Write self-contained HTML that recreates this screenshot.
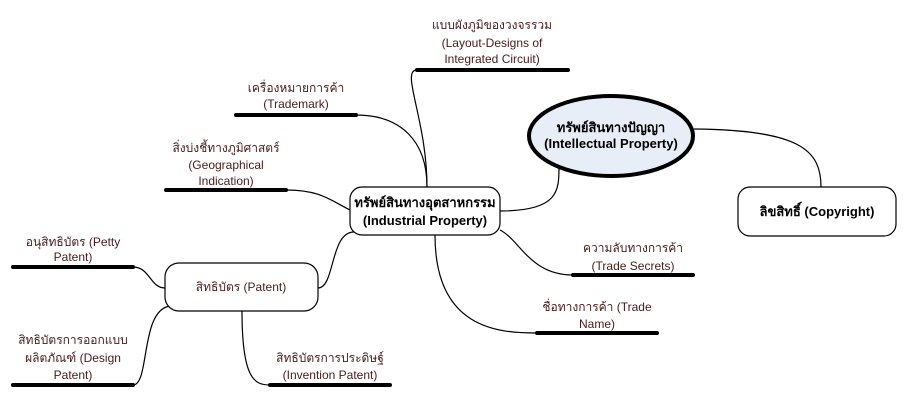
<!DOCTYPE html>
<html><head><meta charset="utf-8"><style>
html,body{margin:0;padding:0;background:#fff;width:913px;height:413px;overflow:hidden}
svg text{font-family:"Liberation Sans","Noto Sans CJK SC",sans-serif;font-size:12px;fill:#4a1a1a;text-anchor:middle}
svg text.b{font-weight:bold;fill:#000;font-size:13px}
</style></head><body>
<svg width="913" height="413" viewBox="0 0 913 413">
<g fill="none" stroke="#000" stroke-width="1.2">
<path d="M427 187 C427 120 400 70 417 70"/>
<path d="M356 115 C400 115 427 140 427 187"/>
<path d="M286 190 C320 190 330 200 350 210"/>
<path d="M354 232 C330 232 335 288 318 288"/>
<path d="M435 235 C435 330 500 333 537 333"/>
<path d="M500 230 C520 240 530 275 573 275"/>
<path d="M500 211 C560 211 559 190 559 165"/>
<path d="M694 129 C800 130 821 150 821 187"/>
<path d="M165 288 C150 288 150 267 133 267"/>
<path d="M170 306 C140 310 150 385 133 385"/>
<path d="M242 311 C242 380 255 385 270 385"/>
</g>
<g stroke="#000" stroke-width="4" stroke-linecap="round">
<line x1="417" y1="70" x2="568" y2="70"/>
<line x1="236" y1="115" x2="356" y2="115"/>
<line x1="166" y1="190" x2="286" y2="190"/>
<line x1="573" y1="275" x2="693" y2="275"/>
<line x1="537" y1="333" x2="657" y2="333"/>
<line x1="13" y1="267" x2="133" y2="267"/>
<line x1="13" y1="385" x2="133" y2="385"/>
<line x1="270" y1="385" x2="390" y2="385"/>
</g>
<ellipse cx="611" cy="136" rx="82" ry="40" fill="#e8eef8" stroke="#000" stroke-width="4"/>
<rect x="350" y="187" width="150" height="48" rx="12" fill="#fff" stroke="#000" stroke-width="1.2"/>
<rect x="738" y="187" width="158" height="49" rx="12" fill="#fff" stroke="#000" stroke-width="1.2"/>
<rect x="165" y="263" width="153" height="48" rx="14" fill="#fff" stroke="#000" stroke-width="1.2"/>
<text class="b" x="611" y="132">ทรัพย์สินทางปัญญา</text>
<text class="b" x="611" y="148">(Intellectual Property)</text>
<text class="b" x="425" y="207">ทรัพย์สินทางอุตสาหกรรม</text>
<text class="b" x="425" y="225">(Industrial Property)</text>
<text class="b" x="817" y="216">ลิขสิทธิ์ (Copyright)</text>
<text x="241" y="291">สิทธิบัตร (Patent)</text>
<text x="492" y="29">แบบผังภูมิของวงจรรวม</text>
<text x="492" y="47">(Layout-Designs of</text>
<text x="492" y="63">Integrated Circuit)</text>
<text x="296" y="92">เครื่องหมายการค้า</text>
<text x="296" y="108">(Trademark)</text>
<text x="226" y="152">สิ่งบ่งชี้ทางภูมิศาสตร์</text>
<text x="226" y="169">(Geographical</text>
<text x="226" y="185">Indication)</text>
<text x="633" y="252">ความลับทางการค้า</text>
<text x="633" y="270">(Trade Secrets)</text>
<text x="597" y="311">ชื่อทางการค้า (Trade</text>
<text x="597" y="328">Name)</text>
<text x="73" y="246">อนุสิทธิบัตร (Petty</text>
<text x="73" y="261">Patent)</text>
<text x="73" y="344">สิทธิบัตรการออกแบบ</text>
<text x="73" y="362">ผลิตภัณฑ์ (Design</text>
<text x="73" y="379">Patent)</text>
<text x="330" y="362">สิทธิบัตรการประดิษฐ์</text>
<text x="330" y="379">(Invention Patent)</text>
</svg>
</body></html>
